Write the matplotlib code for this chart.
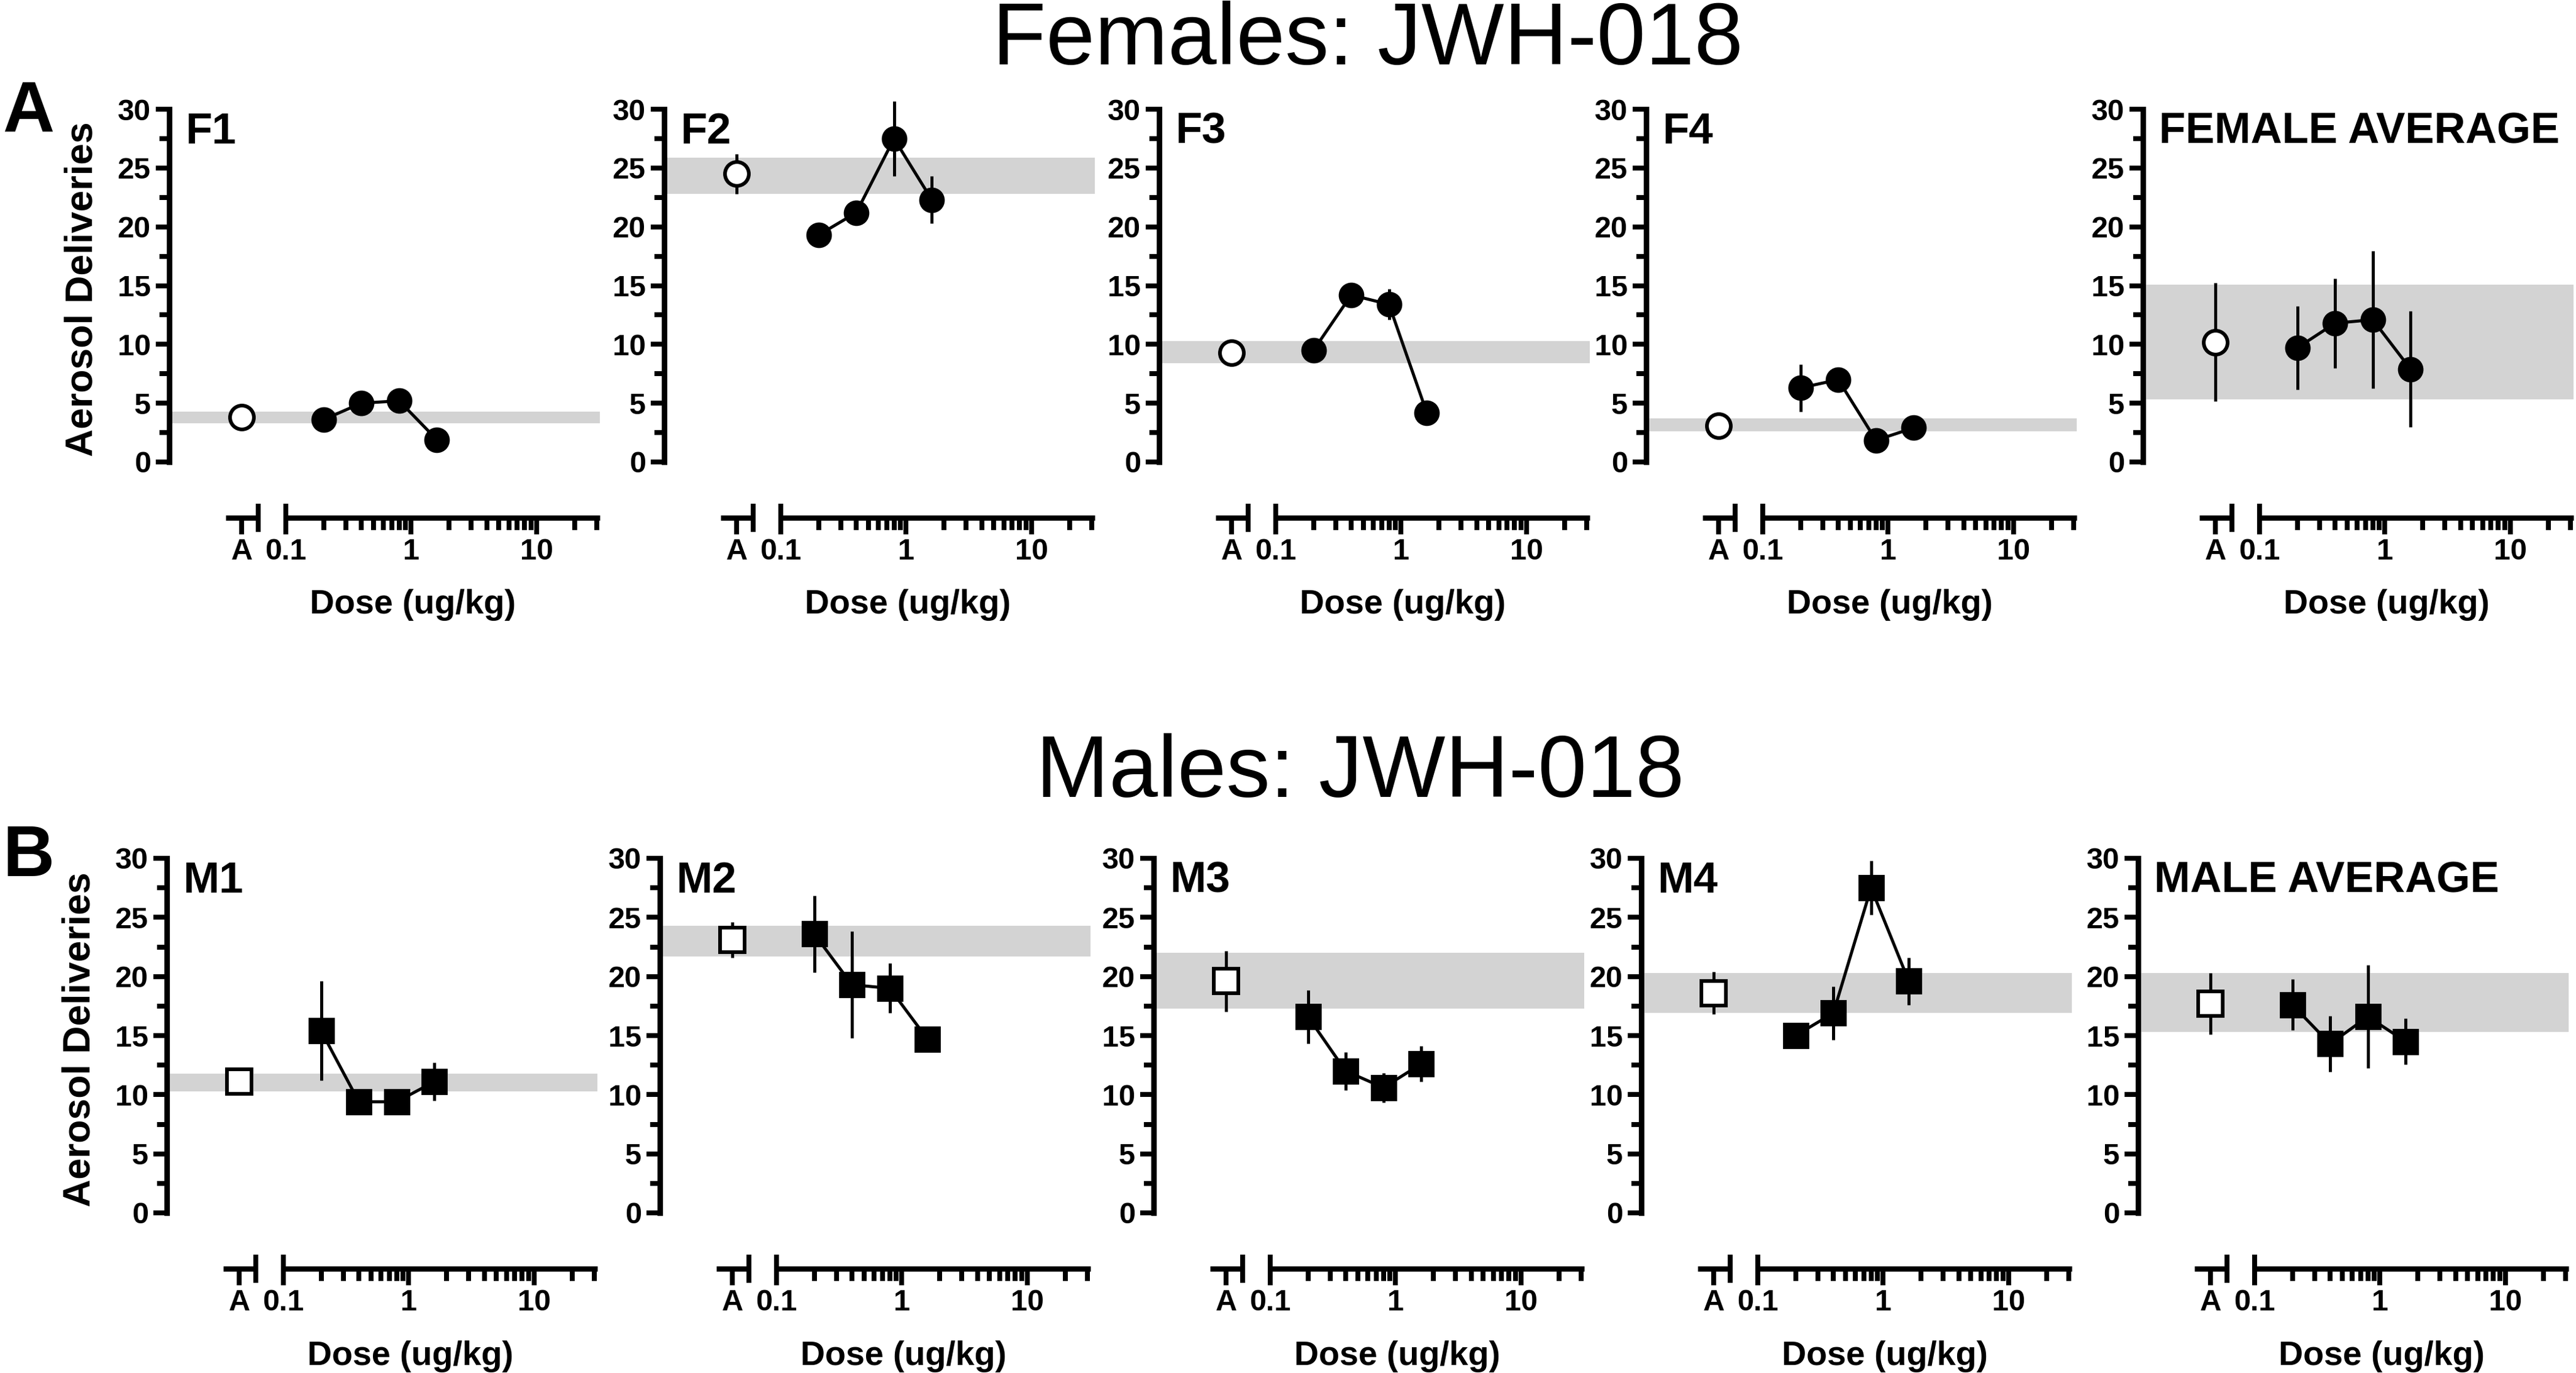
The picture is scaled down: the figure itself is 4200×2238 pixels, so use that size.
import matplotlib
matplotlib.use('Agg')
import matplotlib.pyplot as plt
from matplotlib.ticker import NullFormatter, MultipleLocator

plt.rcParams['font.family'] = ['Liberation Sans', 'DejaVu Sans']
plt.rcParams['font.weight'] = 'bold'
plt.rcParams['axes.labelweight'] = 'bold'

# ---- data ----
doses = [0.2, 0.4, 0.8, 1.6]

f_names = ['F1', 'F2', 'F3', 'F4', 'FEMALE AVERAGE']
f_veh = [3.8, 24.5, 9.3, 3.1, 10.2]
f_veh_err = [0, 1.7, 0, 0, 5.05]
f_band_lo = [3.3, 22.8, 8.4, 2.6, 5.3]
f_band_hi = [4.3, 25.9, 10.3, 3.7, 15.1]
f_means = [[3.6, 5.0, 5.2, 1.9],
           [19.3, 21.2, 27.5, 22.3],
           [9.5, 14.2, 13.4, 4.2],
           [6.3, 7.0, 1.85, 2.9],
           [9.7, 11.8, 12.1, 7.9]]
f_errs = [[0, 0, 0, 0],
          [0, 0, 3.2, 2.0],
          [0, 0, 1.3, 0],
          [2.0, 0, 0, 0],
          [3.55, 3.8, 5.85, 4.95]]

m_names = ['M1', 'M2', 'M3', 'M4', 'MALE AVERAGE']
m_veh = [11.1, 23.1, 19.6, 18.6, 17.7]
m_veh_err = [0, 1.5, 2.55, 1.8, 2.6]
m_band_lo = [10.3, 21.7, 17.3, 16.9, 15.3]
m_band_hi = [11.8, 24.3, 22.0, 20.3, 20.3]
m_means = [[15.4, 9.4, 9.4, 11.1],
           [23.6, 19.3, 19.0, 14.7],
           [16.6, 12.0, 10.6, 12.6],
           [15.0, 16.9, 27.5, 19.6],
           [17.6, 14.3, 16.6, 14.5]]
m_errs = [[4.2, 0, 0, 1.6],
          [3.25, 4.5, 2.1, 0],
          [2.25, 1.6, 1.25, 1.5],
          [0, 2.25, 2.3, 2.0],
          [2.15, 2.35, 4.35, 1.95]]

x_ticklabels = ['A', '0.1', '1', '10']

# ---- layout ----
W, H, DPI = 4200, 2238, 200
PT = 72 / DPI
XMIN, XMAX = 0.01178, 31.9
A_POS = 0.0445          # where the vehicle ("A") sits on the axis
A_SEG = (0.0332, 0.0623)
A_BREAK = 0.0603

fig = plt.figure(figsize=(W / DPI, H / DPI), dpi=DPI)


def draw_panel(x0, ytop, ybot, name, veh, veh_err, lo, hi, means, errs,
               marker, first):
    ax = fig.add_axes([x0 / W, 1 - ybot / H, 702 / W, (ybot - ytop) / H])
    ax.set_xscale('log')
    ax.set_xlim(XMIN, XMAX)
    ax.set_ylim(0, 30)
    ax.patch.set_visible(False)
    for s in ('top', 'right'):
        ax.spines[s].set_visible(False)
    ax.spines['left'].set_linewidth(9 * PT)
    ax.spines['left'].set_bounds(0, 30)
    bot = ax.spines['bottom']
    bot.set_linewidth(8.5 * PT)
    bot.set_capstyle('butt')
    bot.set_position(('outward', 91 * PT))
    bot.set_bounds(0.1, XMAX)

    # short axis piece for the vehicle point + break bars
    st = bot.get_spine_transform()
    ax.plot(A_SEG, [0, 0], color='k', lw=8.5 * PT, transform=st,
            clip_on=False, solid_capstyle='butt')
    ax.plot([A_BREAK, 0.1], [0, 0], ls='none', marker='|', ms=46 * PT,
            mew=8 * PT, color='k', transform=st, clip_on=False)

    ax.set_xticks([A_POS, 0.1, 1, 10], labels=x_ticklabels)
    minors = [m * d for d in (0.1, 1) for m in range(2, 10)] + [20, 30]
    ax.set_xticks(minors, minor=True)
    ax.xaxis.set_minor_formatter(NullFormatter())
    ax.yaxis.set_major_locator(MultipleLocator(5))
    ax.yaxis.set_minor_locator(MultipleLocator(2.5))
    ax.tick_params(axis='x', which='major', length=27 * PT, width=8 * PT,
                   labelsize=17.5, pad=2)
    ax.tick_params(axis='x', which='minor', length=20 * PT, width=8 * PT)
    ax.tick_params(axis='y', which='major', length=22 * PT, width=8 * PT,
                   labelsize=17.5, pad=3)
    ax.tick_params(axis='y', which='minor', length=16 * PT, width=8 * PT)
    for lbl in ax.get_xticklabels() + ax.get_yticklabels():
        lbl.set_fontweight('bold')

    ax.axhspan(lo, hi, color='#d3d3d3', lw=0, zorder=0)

    ms = 14.5 if marker == 's' else 14
    c1 = ax.errorbar([A_POS], [veh], yerr=[veh_err], fmt=marker, ms=ms,
                     mfc='white', mec='k', mew=6 * PT, ecolor='k',
                     elinewidth=5 * PT, capsize=0, zorder=3)
    c2 = ax.errorbar(doses, means, yerr=errs, fmt=marker + '-', color='k',
                     ms=ms, lw=5 * PT, elinewidth=5 * PT, capsize=0, zorder=3)
    for c in (c1, c2):
        for art in c.get_children():
            art.set_clip_on(False)

    ax.text(26 / 702, 27.1, name, transform=ax.get_yaxis_transform(),
            fontsize=25.5, fontweight='bold', va='baseline', ha='left')

    ax.set_xlabel('Dose (ug/kg)', fontsize=20, fontweight='bold', va='center')
    ax.xaxis.set_label_coords(0.566, -0.405)
    if first:
        ax.set_ylabel('Aerosol Deliveries', fontsize=22.5, fontweight='bold',
                      va='center')
        ax.yaxis.set_label_coords(-0.202, 0.49)
    return ax


top_x = [276, 1083, 1890, 2684, 3494]
bot_x = [272, 1076, 1881, 2676, 3486]

for i in range(5):
    draw_panel(top_x[i], 178, 753, f_names[i], f_veh[i], f_veh_err[i],
               f_band_lo[i], f_band_hi[i], f_means[i], f_errs[i], 'o', i == 0)
    draw_panel(bot_x[i], 1399, 1977, m_names[i], m_veh[i], m_veh_err[i],
               m_band_lo[i], m_band_hi[i], m_means[i], m_errs[i], 's', i == 0)

fig.text(2230 / W, 1 - 105 / H, 'Females: JWH-018', ha='center',
         va='baseline', fontsize=51.5, fontweight='normal')
fig.text(2218 / W, 1 - 1299 / H, 'Males: JWH-018', ha='center',
         va='baseline', fontsize=51.5, fontweight='normal')
fig.text(4 / W, 1 - 214 / H, 'A', fontsize=42, fontweight='bold',
         va='baseline', ha='left')
fig.text(4 / W, 1 - 1428 / H, 'B', fontsize=42, fontweight='bold',
         va='baseline', ha='left')

fig.savefig('out.png', dpi=DPI, facecolor='white')
